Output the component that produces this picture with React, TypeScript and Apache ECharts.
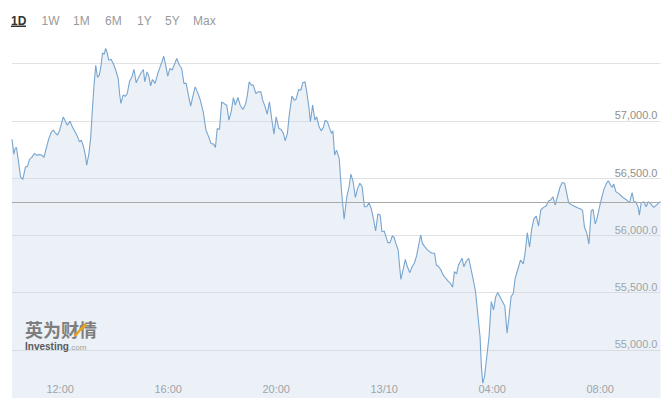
import React, { useEffect, useRef } from "react";
import * as echarts from "echarts";

// Time in minutes since 00:00 on 12/10 (values past 1440 are on 13/10)
const times = [
  613, 617, 620, 623, 628, 632, 637, 643, 647, 652, 657, 663, 668, 674, 679, 684, 689, 695, 700, 705,
  709, 714, 719, 723, 727, 732, 736, 742, 747, 753, 758, 763, 767, 772, 776, 779, 784, 788, 791, 795,
  799, 803, 807, 811, 814, 818, 821, 824, 828, 833, 838, 843, 849, 852, 855, 860, 865, 869, 874, 880,
  884, 889, 895, 899, 905, 908, 913, 917, 921, 925, 931, 937, 942, 947, 950, 954, 959, 964, 969,
  979, 985, 990, 995, 1000, 1005, 1010, 1015, 1020, 1025, 1031, 1038, 1044, 1050, 1055, 1061, 1065, 1069, 1074, 1079,
  1084, 1090, 1095, 1100, 1105, 1109, 1115, 1120, 1126, 1132, 1136, 1140, 1145, 1149, 1155, 1160, 1166, 1170, 1175, 1180,
  1185, 1190, 1195, 1200, 1206, 1211, 1216, 1220, 1225, 1229, 1235, 1240, 1244, 1250, 1255, 1259, 1264, 1268, 1273, 1276,
  1281, 1286, 1290, 1295, 1300, 1305, 1309, 1314, 1318, 1323, 1326,
  1330, 1334, 1340, 1345, 1351, 1357, 1362, 1366, 1371, 1376, 1381, 1386, 1391, 1396, 1401, 1406, 1411, 1416, 1421, 1426,
  1431, 1435, 1440, 1444, 1448, 1453, 1458, 1462, 1466, 1471, 1477, 1482, 1487, 1491, 1497, 1502, 1507, 1512, 1516, 1521,
  1525, 1530, 1535, 1541, 1547, 1552, 1556, 1561, 1566, 1571, 1577, 1583, 1587, 1592, 1596, 1601, 1605, 1609, 1613, 1617,
  1622, 1628, 1633, 1638, 1643, 1647, 1653, 1656, 1659, 1663, 1668, 1673, 1678, 1683, 1688, 1692, 1697, 1703, 1708, 1713,
  1717, 1722, 1727, 1731, 1737, 1743, 1749, 1753, 1758, 1763, 1768, 1773, 1778, 1783, 1788, 1794, 1800, 1805, 1810, 1815,
  1820, 1826, 1831, 1836, 1841, 1845, 1850, 1857, 1865, 1872, 1878, 1881, 1885, 1890, 1895, 1900, 1904, 1909, 1913, 1919,
  1924, 1929, 1934, 1938, 1943, 1947, 1950, 1955, 1961, 1967, 1973, 1979, 1985, 1991, 1995, 1999, 2004, 2007, 2011, 2017,
  2022, 2027, 2033, 2039, 2045, 2050, 2054,
];

const prices = [
  56837, 56709, 56759, 56767, 56628, 56511, 56488, 56598, 56598, 56663, 56680, 56715, 56698, 56706, 56700, 56680, 56759, 56846, 56898, 56918,
  56895, 56875, 56918, 56977, 57034, 56991, 56962, 56997, 56947, 56904, 56866, 56816, 56831, 56773, 56700, 56613, 56715, 56860, 57064, 57296,
  57485, 57378, 57398, 57485, 57592, 57581, 57631, 57601, 57529, 57537, 57500, 57448, 57369, 57238, 57151, 57224, 57215, 57238, 57340, 57389,
  57448, 57331, 57383, 57413, 57448, 57340, 57427, 57389, 57305, 57360, 57326, 57413, 57470, 57523, 57564, 57494, 57389, 57456, 57442,
  57544, 57485, 57456, 57326, 57326, 57224, 57128, 57215, 57296, 57252, 57186, 57078, 56918, 56860, 56802, 56796, 56767, 56933, 56924, 57165,
  57151, 57136, 57006, 57078, 57203, 57136, 57203, 57136, 57099, 57145, 57224, 57340, 57311, 57311, 57238, 57252, 57252, 57180, 57128, 57058,
  57165, 57020, 56883, 57034, 56933, 56924, 56890, 56825, 56890, 57049, 57215, 57180, 57186, 57273, 57267, 57331, 57340, 57252, 57108, 56991,
  57136, 57006, 57034, 56953, 56912, 56942, 57006, 56991, 56942, 56890, 56912,
  56700, 56744, 56672, 56395, 56140, 56337, 56424, 56535, 56468, 56331, 56410, 56454, 56424, 56250, 56250, 56284, 56236, 56148, 56038, 56186,
  56177, 56032, 56038, 55988, 55936, 55936, 55994, 55983, 55930, 55872, 55616, 55698, 55791, 55732, 55674, 55726, 55756, 55820, 55901, 56003,
  55930, 55901, 55878, 55857, 55843, 55843, 55741, 55726, 55698, 55654, 55625, 55596, 55582, 55547, 55683, 55663, 55741, 55770, 55800, 55726,
  55770, 55800, 55704, 55610, 55508, 55349, 55116, 54854, 54710, 54767, 54942, 55116, 55421, 55349, 55465, 55500, 55465, 55421, 55384, 55146,
  55276, 55465, 55494, 55625, 55704, 55785, 55750, 55843, 56023, 55896, 56061, 56148, 56168, 56081, 56221, 56244, 56256, 56299, 56308, 56337,
  56264, 56352, 56424, 56462, 56454, 56380, 56284, 56264, 56250, 56236, 56227, 56215, 56070, 56023, 55924, 56215, 56227, 56099, 56148, 56256,
  56337, 56410, 56454, 56476, 56439, 56419, 56448, 56380, 56366, 56343, 56323, 56308, 56284, 56372, 56293, 56293, 56250, 56177, 56284, 56293,
  56250, 56293, 56273, 56244, 56264, 56284, 56293,
];

const lastPrice = 56288;
const xLabelValues = [720, 960, 1200, 1440, 1680, 1920];
const yLabelMax = 57000;
const tabs = ["1D", "1W", "1M", "6M", "1Y", "5Y", "Max"];
const activeTab = "1D";

const FONT = 'Arial, "Liberation Sans", sans-serif';

function fmtTime(v: number): string {
  if (v === 1440) return "13/10";
  const h = Math.floor(v / 60) % 24;
  const m = Math.round(v % 60);
  return String(h).padStart(2, "0") + ":" + String(m).padStart(2, "0");
}

function fmtPrice(v: number): string {
  return v.toLocaleString("en-US", { minimumFractionDigits: 1, maximumFractionDigits: 1 });
}

export default function App() {
  const ref = useRef<HTMLDivElement>(null);

  useEffect(() => {
    if (!ref.current) return;
    const chart = echarts.init(ref.current, null, { renderer: "svg" });

    const tabX = [11, 41.5, 73, 105, 137, 165, 193];
    const tabGraphics: any[] = tabs.map((t, i) => ({
      type: "text",
      x: tabX[i],
      y: 20.5,
      style: {
        text: t,
        fontSize: 12,
        fontFamily: FONT,
        fontWeight: t === activeTab ? "bold" : "normal",
        fill: t === activeTab ? "#333333" : "#9a9a9a",
        verticalAlign: "middle",
        align: "left",
      },
    }));

    const option: any = {
      animation: false,
      backgroundColor: "#ffffff",
      grid: { left: 12, right: 10.5, top: 40, bottom: 5 },
      xAxis: {
        type: "value",
        min: times[0],
        max: times[times.length - 1],
        axisLine: { show: false },
        axisTick: { show: false },
        splitLine: { show: false },
        axisLabel: {
          inside: true,
          margin: 4,
          customValues: xLabelValues,
          formatter: (v: number) => fmtTime(v),
          color: "#8f8f8f",
          fontSize: 11,
          fontFamily: FONT,
        },
      },
      yAxis: {
        type: "value",
        position: "right",
        min: 54580,
        max: 57705,
        splitNumber: 5,
        minInterval: 500,
        maxInterval: 500,
        axisLine: { show: false },
        axisTick: { show: false },
        splitLine: {
          show: true,
          showMinLine: false,
          showMaxLine: false,
          lineStyle: { color: "#e2e2e2", width: 1 },
        },
        axisLabel: {
          inside: true,
          margin: 3,
          verticalAlign: "bottom",
          showMinLabel: false,
          showMaxLabel: false,
          color: "#8f8f8f",
          fontSize: 11,
          fontFamily: FONT,
          formatter: (v: number) => (v > yLabelMax ? "" : fmtPrice(v)),
        },
      },
      series: [
        {
          type: "line",
          data: times.map((t, i) => [t, prices[i]]),
          showSymbol: false,
          symbol: "none",
          lineStyle: { color: "#78a5cf", width: 1.1 },
          areaStyle: { color: "rgba(190,210,228,0.45)", origin: "start" },
          markLine: {
            silent: true,
            symbol: ["none", "none"],
            label: { show: false },
            lineStyle: { color: "#a9a9a9", type: "solid", width: 1 },
            data: [{ yAxis: lastPrice }],
          },
        },
      ],
      graphic: [
        ...tabGraphics,
        {
          type: "rect",
          shape: { x: 11, y: 25.5, width: 15, height: 1.5 },
          style: { fill: "#333333" },
        },
        {
          type: "text",
          x: 25,
          y: 329,
          z: 100,
          style: {
            text: "英为财情",
            fontSize: 18,
            fontWeight: "bold",
            fontFamily: '"Noto Sans CJK SC", sans-serif',
            fill: "#7e7e7e",
            verticalAlign: "middle",
          },
        },
        {
          type: "polyline",
          z: 101,
          shape: { points: [[75, 336], [80, 330], [86, 324]] },
          style: { stroke: "#e8a317", lineWidth: 2.5, fill: null },
        },
        {
          type: "text",
          x: 25,
          y: 346,
          z: 100,
          style: {
            text: "Investing",
            fontSize: 10,
            fontWeight: "bold",
            fontFamily: FONT,
            fill: "#5a5a5a",
            verticalAlign: "middle",
          },
        },
        {
          type: "text",
          x: 69,
          y: 347,
          z: 100,
          style: {
            text: ".com",
            fontSize: 8,
            fontFamily: FONT,
            fill: "#a0a0a0",
            verticalAlign: "middle",
          },
        },
      ],
    };

    chart.setOption(option);
    return () => chart.dispose();
  }, []);

  return (
    <div
      ref={ref}
      style={{ position: "fixed", left: 0, top: 0, width: 671, height: 403 }}
    />
  );
}
